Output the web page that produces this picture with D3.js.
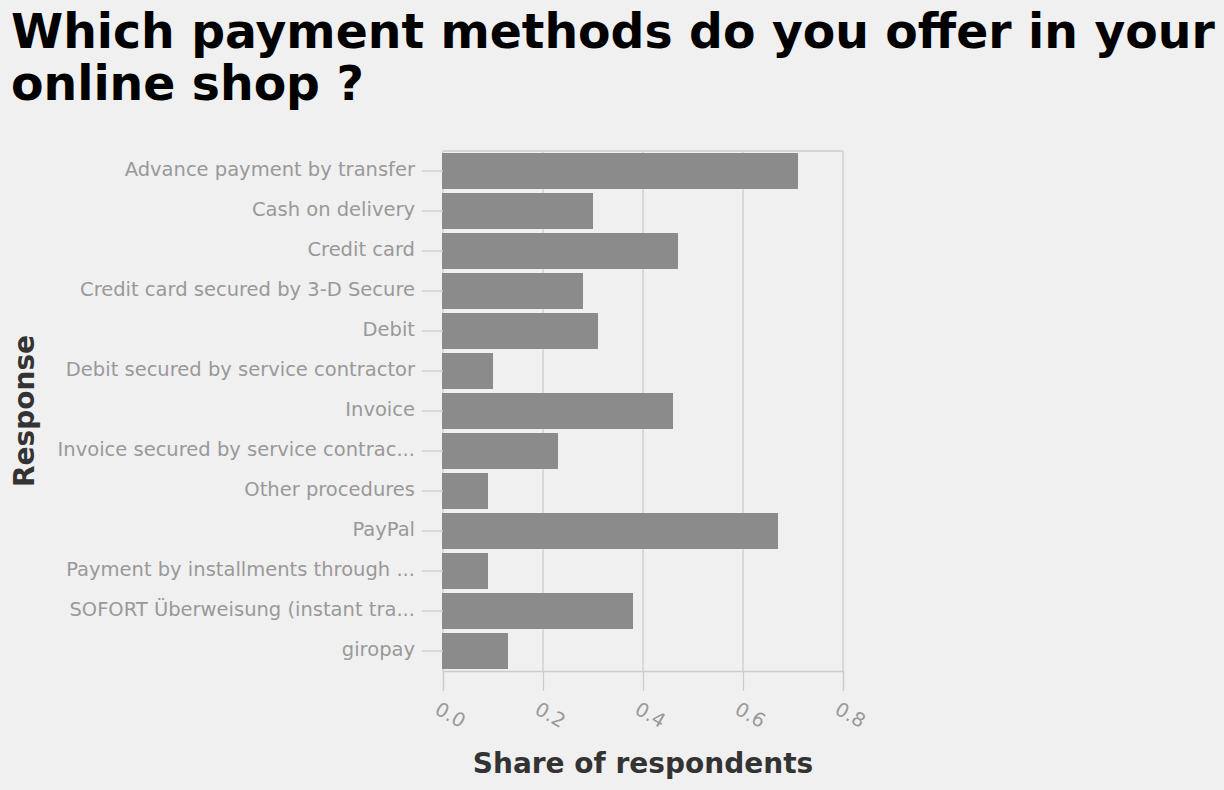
<!DOCTYPE html>
<html>
<head>
<meta charset="utf-8">
<script src="https://cdn.jsdelivr.net/npm/d3@7"></script>
<style>
  body { margin: 0; background: #f0f0f0; }
  svg { font-family: "DejaVu Sans", sans-serif; }
</style>
</head>
<body>
<svg id="chart" width="1224" height="790"></svg>
<script>
let responses = [
  "Advance payment by transfer",
  "Cash on delivery",
  "Credit card",
  "Credit card secured by 3-D Secure",
  "Debit",
  "Debit secured by service contractor",
  "Invoice",
  "Invoice secured by service contrac...",
  "Other procedures",
  "PayPal",
  "Payment by installments through ...",
  "SOFORT Überweisung (instant tra...",
  "giropay"
];
let shares = [0.71, 0.30, 0.47, 0.28, 0.31, 0.10, 0.46, 0.23, 0.09, 0.67, 0.09, 0.38, 0.13];
let xTicks = [0, 0.2, 0.4, 0.6, 0.8];

let svg = d3.select('#chart');

let plotLeft = 443, plotRight = 843, plotTop = 151, plotBottom = 671;

let x = d3.scaleLinear().domain([0, 0.8]).range([plotLeft, plotRight]);
let y = d3.scaleBand().domain(responses).range([plotTop, plotBottom]).paddingInner(0.1).paddingOuter(0.05);

// title
svg.append('text').attr('x', 11).attr('y', 48)
  .style('font-size', '47.3px').style('font-weight', 'bold').attr('fill', '#000')
  .text('Which payment methods do you offer in your');
svg.append('text').attr('x', 11).attr('y', 100)
  .style('font-size', '47.3px').style('font-weight', 'bold').attr('fill', '#000')
  .text('online shop ?');

// grid
svg.append('g').selectAll('line').data(xTicks).join('line')
  .attr('x1', d => x(d)).attr('x2', d => x(d))
  .attr('y1', plotTop).attr('y2', plotBottom)
  .attr('stroke', '#cccccc').attr('stroke-width', 1.3);
svg.append('line').attr('x1', plotLeft).attr('x2', plotRight).attr('y1', plotTop).attr('y2', plotTop)
  .attr('stroke', '#cccccc').attr('stroke-width', 1.3);

// bars
svg.append('g').selectAll('rect').data(responses).join('rect')
  .attr('x', x(0) - 1)
  .attr('y', d => y(d))
  .attr('width', (d, i) => x(shares[i]) - x(0) + 1)
  .attr('height', y.bandwidth())
  .attr('fill', '#8b8b8b');

// y axis
let yAxis = svg.append('g').attr('transform', 'translate(' + plotLeft + ',0)')
  .call(d3.axisLeft(y).tickSize(21).tickPadding(7));
yAxis.select('.domain').remove();
yAxis.selectAll('.tick line').attr('stroke', '#cccccc').attr('stroke-width', 1.3);
yAxis.selectAll('.tick text').attr('fill', '#999999')
  .attr('dy', '0.28em')
  .style('font-size', '19.5px').style('font-family', '"DejaVu Sans", sans-serif');

// x axis
let xAxis = svg.append('g').attr('transform', 'translate(0,' + plotBottom + ')')
  .call(d3.axisBottom(x).tickValues(xTicks).tickSize(20).tickFormat(d3.format('.1f')));
xAxis.select('.domain').attr('stroke', '#cccccc').attr('stroke-width', 1.3);
xAxis.selectAll('.tick line').attr('stroke', '#cccccc').attr('stroke-width', 1.3);
xAxis.selectAll('.tick text')
  .attr('fill', '#999999')
  .style('font-size', '19.5px').style('font-family', '"DejaVu Sans", sans-serif')
  .attr('text-anchor', 'start')
  .attr('y', 0).attr('dy', '0.71em')
  .attr('transform', 'translate(-3,30) rotate(30)');

// axis titles
svg.append('text').attr('x', (plotLeft + plotRight) / 2).attr('y', 773)
  .attr('text-anchor', 'middle')
  .style('font-size', '28px').style('font-weight', 'bold').attr('fill', '#333333')
  .text('Share of respondents');
svg.append('text')
  .attr('transform', 'translate(34,' + ((plotTop + plotBottom) / 2) + ') rotate(-90)')
  .attr('text-anchor', 'middle')
  .style('font-size', '28px').style('font-weight', 'bold').attr('fill', '#333333')
  .text('Response');
</script>
</body>
</html>
